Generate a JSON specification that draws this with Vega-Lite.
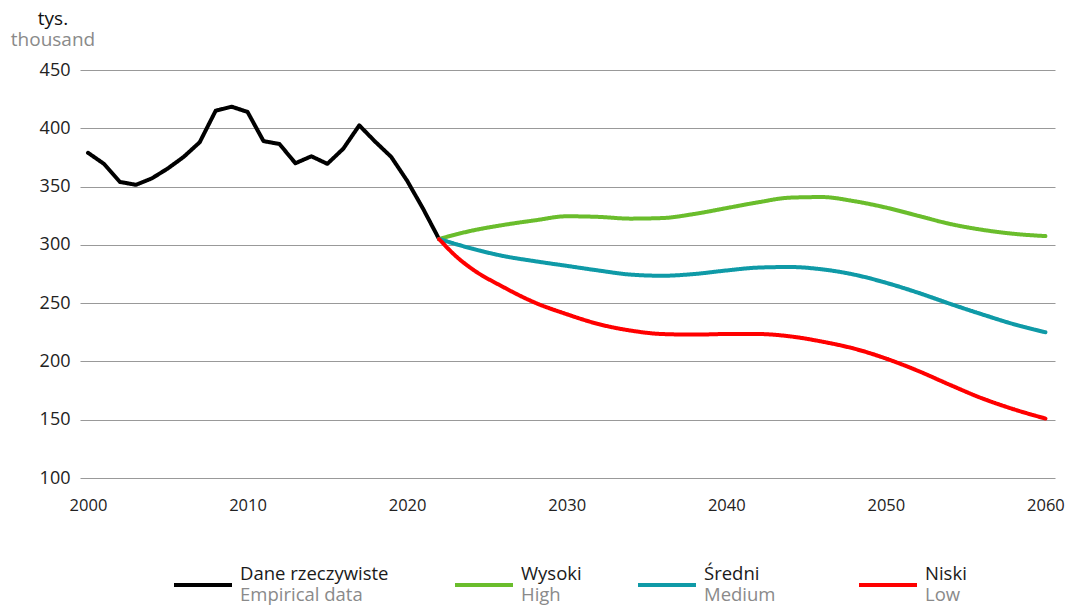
{
  "$schema": "https://vega.github.io/schema/vega-lite/v6.json",
  "width": 975,
  "height": 408,
  "autosize": {"type": "none"},
  "padding": {"left": 80, "top": 70, "right": 27, "bottom": 133},
  "background": "white",
  "config": {
    "font": "Open Sans",
    "view": {"stroke": null},
    "legend": {
      "symbolType": "stroke",
      "symbolSize": 3364,
      "symbolStrokeWidth": 4,
      "labelOffset": 6,
      "labelFontSize": 18.5,
      "labelColor": "#1a1a1a",
      "labelLimit": 300,
      "padding": 0
    }
  },
  "title": {
    "text": "tys.",
    "subtitle": "thousand",
    "anchor": "start",
    "align": "center",
    "frame": "group",
    "dx": -27,
    "offset": 11,
    "fontSize": 19,
    "fontWeight": "normal",
    "color": "#111111",
    "subtitleFontSize": 19,
    "subtitleColor": "#8a8a8a",
    "subtitlePadding": 2
  },
  "data": {
    "values": [
      {"year": 2000, "value": 379, "pl": "Dane rzeczywiste", "en": "Empirical data"},
      {"year": 2001, "value": 369.5, "pl": "Dane rzeczywiste", "en": "Empirical data"},
      {"year": 2002, "value": 354, "pl": "Dane rzeczywiste", "en": "Empirical data"},
      {"year": 2003, "value": 351.5, "pl": "Dane rzeczywiste", "en": "Empirical data"},
      {"year": 2004, "value": 357, "pl": "Dane rzeczywiste", "en": "Empirical data"},
      {"year": 2005, "value": 365.5, "pl": "Dane rzeczywiste", "en": "Empirical data"},
      {"year": 2006, "value": 375.5, "pl": "Dane rzeczywiste", "en": "Empirical data"},
      {"year": 2007, "value": 388, "pl": "Dane rzeczywiste", "en": "Empirical data"},
      {"year": 2008, "value": 415, "pl": "Dane rzeczywiste", "en": "Empirical data"},
      {"year": 2009, "value": 418.5, "pl": "Dane rzeczywiste", "en": "Empirical data"},
      {"year": 2010, "value": 414, "pl": "Dane rzeczywiste", "en": "Empirical data"},
      {"year": 2011, "value": 389, "pl": "Dane rzeczywiste", "en": "Empirical data"},
      {"year": 2012, "value": 386.5, "pl": "Dane rzeczywiste", "en": "Empirical data"},
      {"year": 2013, "value": 370, "pl": "Dane rzeczywiste", "en": "Empirical data"},
      {"year": 2014, "value": 376, "pl": "Dane rzeczywiste", "en": "Empirical data"},
      {"year": 2015, "value": 369.5, "pl": "Dane rzeczywiste", "en": "Empirical data"},
      {"year": 2016, "value": 382.5, "pl": "Dane rzeczywiste", "en": "Empirical data"},
      {"year": 2017, "value": 402.5, "pl": "Dane rzeczywiste", "en": "Empirical data"},
      {"year": 2018, "value": 388.5, "pl": "Dane rzeczywiste", "en": "Empirical data"},
      {"year": 2019, "value": 375.5, "pl": "Dane rzeczywiste", "en": "Empirical data"},
      {"year": 2020, "value": 355, "pl": "Dane rzeczywiste", "en": "Empirical data"},
      {"year": 2021, "value": 331, "pl": "Dane rzeczywiste", "en": "Empirical data"},
      {"year": 2022, "value": 305, "pl": "Dane rzeczywiste", "en": "Empirical data"},

      {"year": 2022, "value": 305, "pl": "Wysoki", "en": "High"},
      {"year": 2024, "value": 312, "pl": "Wysoki", "en": "High"},
      {"year": 2026, "value": 317, "pl": "Wysoki", "en": "High"},
      {"year": 2028, "value": 321, "pl": "Wysoki", "en": "High"},
      {"year": 2030, "value": 324.5, "pl": "Wysoki", "en": "High"},
      {"year": 2032, "value": 324, "pl": "Wysoki", "en": "High"},
      {"year": 2034, "value": 322.5, "pl": "Wysoki", "en": "High"},
      {"year": 2036, "value": 323, "pl": "Wysoki", "en": "High"},
      {"year": 2038, "value": 326.5, "pl": "Wysoki", "en": "High"},
      {"year": 2040, "value": 331.5, "pl": "Wysoki", "en": "High"},
      {"year": 2042, "value": 336.5, "pl": "Wysoki", "en": "High"},
      {"year": 2044, "value": 340.5, "pl": "Wysoki", "en": "High"},
      {"year": 2046, "value": 341, "pl": "Wysoki", "en": "High"},
      {"year": 2048, "value": 337.5, "pl": "Wysoki", "en": "High"},
      {"year": 2050, "value": 332, "pl": "Wysoki", "en": "High"},
      {"year": 2052, "value": 325, "pl": "Wysoki", "en": "High"},
      {"year": 2054, "value": 318, "pl": "Wysoki", "en": "High"},
      {"year": 2056, "value": 313, "pl": "Wysoki", "en": "High"},
      {"year": 2058, "value": 309.5, "pl": "Wysoki", "en": "High"},
      {"year": 2060, "value": 307.5, "pl": "Wysoki", "en": "High"},

      {"year": 2022, "value": 305, "pl": "Średni", "en": "Medium"},
      {"year": 2024, "value": 297, "pl": "Średni", "en": "Medium"},
      {"year": 2026, "value": 290.5, "pl": "Średni", "en": "Medium"},
      {"year": 2028, "value": 286, "pl": "Średni", "en": "Medium"},
      {"year": 2030, "value": 282, "pl": "Średni", "en": "Medium"},
      {"year": 2032, "value": 278, "pl": "Średni", "en": "Medium"},
      {"year": 2034, "value": 274.5, "pl": "Średni", "en": "Medium"},
      {"year": 2036, "value": 273.5, "pl": "Średni", "en": "Medium"},
      {"year": 2038, "value": 275, "pl": "Średni", "en": "Medium"},
      {"year": 2040, "value": 278, "pl": "Średni", "en": "Medium"},
      {"year": 2042, "value": 280.5, "pl": "Średni", "en": "Medium"},
      {"year": 2044, "value": 281, "pl": "Średni", "en": "Medium"},
      {"year": 2046, "value": 279, "pl": "Średni", "en": "Medium"},
      {"year": 2048, "value": 274.5, "pl": "Średni", "en": "Medium"},
      {"year": 2050, "value": 267.5, "pl": "Średni", "en": "Medium"},
      {"year": 2052, "value": 259, "pl": "Średni", "en": "Medium"},
      {"year": 2054, "value": 249.5, "pl": "Średni", "en": "Medium"},
      {"year": 2056, "value": 240.5, "pl": "Średni", "en": "Medium"},
      {"year": 2058, "value": 232, "pl": "Średni", "en": "Medium"},
      {"year": 2060, "value": 225, "pl": "Średni", "en": "Medium"},

      {"year": 2022, "value": 305, "pl": "Niski", "en": "Low"},
      {"year": 2023, "value": 291, "pl": "Niski", "en": "Low"},
      {"year": 2024, "value": 280, "pl": "Niski", "en": "Low"},
      {"year": 2026, "value": 264, "pl": "Niski", "en": "Low"},
      {"year": 2028, "value": 250.5, "pl": "Niski", "en": "Low"},
      {"year": 2030, "value": 240.5, "pl": "Niski", "en": "Low"},
      {"year": 2032, "value": 232, "pl": "Niski", "en": "Low"},
      {"year": 2034, "value": 226.5, "pl": "Niski", "en": "Low"},
      {"year": 2036, "value": 223.5, "pl": "Niski", "en": "Low"},
      {"year": 2038, "value": 223, "pl": "Niski", "en": "Low"},
      {"year": 2040, "value": 223.5, "pl": "Niski", "en": "Low"},
      {"year": 2042, "value": 223.5, "pl": "Niski", "en": "Low"},
      {"year": 2044, "value": 221.5, "pl": "Niski", "en": "Low"},
      {"year": 2046, "value": 217, "pl": "Niski", "en": "Low"},
      {"year": 2048, "value": 211, "pl": "Niski", "en": "Low"},
      {"year": 2050, "value": 202.5, "pl": "Niski", "en": "Low"},
      {"year": 2052, "value": 192, "pl": "Niski", "en": "Low"},
      {"year": 2054, "value": 180, "pl": "Niski", "en": "Low"},
      {"year": 2056, "value": 168.5, "pl": "Niski", "en": "Low"},
      {"year": 2058, "value": 159, "pl": "Niski", "en": "Low"},
      {"year": 2060, "value": 151, "pl": "Niski", "en": "Low"}
    ]
  },
  "encoding": {
    "x": {
      "field": "year",
      "type": "quantitative",
      "scale": {"domain": [1999.5, 2060.6], "nice": false, "zero": false},
      "axis": {
        "title": null,
        "values": [2000, 2010, 2020, 2030, 2040, 2050, 2060],
        "format": "d",
        "grid": false,
        "domain": false,
        "ticks": false,
        "labelPadding": 19,
        "labelFontSize": 16.5,
        "labelColor": "#222222"
      }
    },
    "y": {
      "field": "value",
      "type": "quantitative",
      "scale": {"domain": [100, 450], "nice": false, "zero": false},
      "axis": {
        "title": null,
        "values": [100, 150, 200, 250, 300, 350, 400, 450],
        "grid": true,
        "gridColor": "#999999",
        "gridWidth": 1,
        "domain": false,
        "ticks": false,
        "labelPadding": 10,
        "labelFontSize": 18,
        "labelColor": "#222222"
      }
    }
  },
  "layer": [
    {
      "transform": [{"filter": "datum.pl === 'Dane rzeczywiste'"}],
      "mark": {"type": "line", "strokeWidth": 4, "interpolate": "linear", "strokeCap": "round", "strokeJoin": "round"},
      "encoding": {
        "color": {"field": "pl", "type": "nominal", "scale": {"domain": ["Dane rzeczywiste"], "range": ["#000000"]},
          "legend": {"title": null, "orient": "none", "legendX": 92, "legendY": 484, "labelBaseline": "line-bottom", "labelLineHeight": 26}},
        "strokeDash": {"field": "en", "type": "nominal", "scale": {"domain": ["Empirical data"], "range": [[1, 0]]},
          "legend": {"title": null, "orient": "none", "legendX": 92, "legendY": 484, "labelBaseline": "line-top", "labelLineHeight": 20, "labelColor": "#8a8a8a", "symbolOpacity": 0, "symbolStrokeColor": "transparent"}}
      }
    },
    {
      "transform": [{"filter": "datum.pl === 'Wysoki'"}],
      "mark": {"type": "line", "strokeWidth": 4, "interpolate": "monotone", "strokeCap": "round", "strokeJoin": "round"},
      "encoding": {
        "color": {"field": "pl", "type": "nominal", "scale": {"domain": ["Wysoki"], "range": ["#6abd2c"]},
          "legend": {"title": null, "orient": "none", "legendX": 373, "legendY": 484, "labelBaseline": "line-bottom", "labelLineHeight": 26}},
        "strokeDash": {"field": "en", "type": "nominal", "scale": {"domain": ["High"], "range": [[1, 0]]},
          "legend": {"title": null, "orient": "none", "legendX": 373, "legendY": 484, "labelBaseline": "line-top", "labelLineHeight": 20, "labelColor": "#8a8a8a", "symbolOpacity": 0, "symbolStrokeColor": "transparent"}}
      }
    },
    {
      "transform": [{"filter": "datum.pl === 'Średni'"}],
      "mark": {"type": "line", "strokeWidth": 4, "interpolate": "monotone", "strokeCap": "round", "strokeJoin": "round"},
      "encoding": {
        "color": {"field": "pl", "type": "nominal", "scale": {"domain": ["Średni"], "range": ["#0f9aa7"]},
          "legend": {"title": null, "orient": "none", "legendX": 556, "legendY": 484, "labelBaseline": "line-bottom", "labelLineHeight": 26}},
        "strokeDash": {"field": "en", "type": "nominal", "scale": {"domain": ["Medium"], "range": [[1, 0]]},
          "legend": {"title": null, "orient": "none", "legendX": 556, "legendY": 484, "labelBaseline": "line-top", "labelLineHeight": 20, "labelColor": "#8a8a8a", "symbolOpacity": 0, "symbolStrokeColor": "transparent"}}
      }
    },
    {
      "transform": [{"filter": "datum.pl === 'Niski'"}],
      "mark": {"type": "line", "strokeWidth": 4, "interpolate": "monotone", "strokeCap": "round", "strokeJoin": "round"},
      "encoding": {
        "color": {"field": "pl", "type": "nominal", "scale": {"domain": ["Niski"], "range": ["#ff0000"]},
          "legend": {"title": null, "orient": "none", "legendX": 777, "legendY": 484, "labelBaseline": "line-bottom", "labelLineHeight": 26}},
        "strokeDash": {"field": "en", "type": "nominal", "scale": {"domain": ["Low"], "range": [[1, 0]]},
          "legend": {"title": null, "orient": "none", "legendX": 777, "legendY": 484, "labelBaseline": "line-top", "labelLineHeight": 20, "labelColor": "#8a8a8a", "symbolOpacity": 0, "symbolStrokeColor": "transparent"}}
      }
    }
  ],
  "resolve": {"scale": {"color": "independent", "strokeDash": "independent"}}
}
